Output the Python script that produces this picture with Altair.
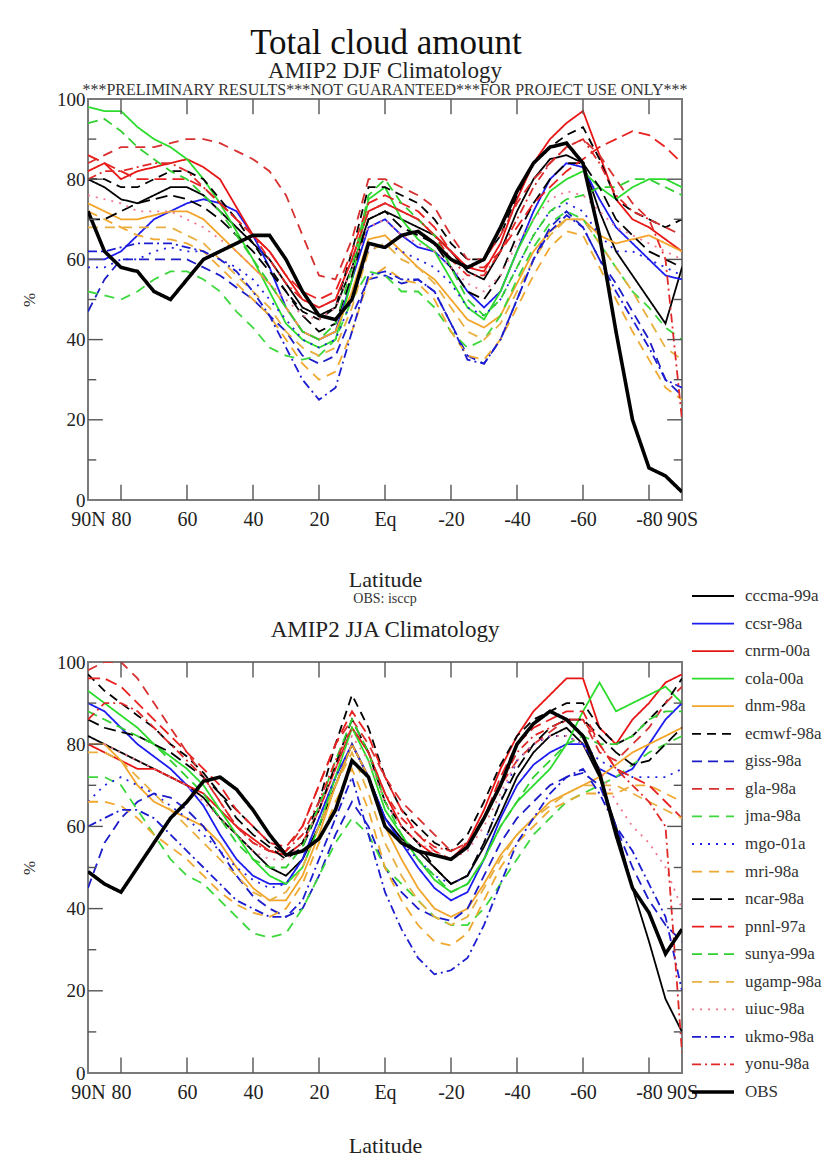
import altair as alt
import pandas as pd

FONT = "Liberation Serif"

LATS = [90, 85, 80, 75, 70, 65, 60, 55, 50, 45, 40, 35, 30, 25, 20, 15, 10, 5, 0,
        -5, -10, -15, -20, -25, -30, -35, -40, -45, -50, -55, -60, -65, -70, -75, -80, -85, -90]

MODELS = ["cccma-99a", "ccsr-98a", "cnrm-00a", "cola-00a", "dnm-98a", "ecmwf-98a",
          "giss-98a", "gla-98a", "jma-98a", "mgo-01a", "mri-98a", "ncar-98a",
          "pnnl-97a", "sunya-99a", "ugamp-98a", "uiuc-98a", "ukmo-98a", "yonu-98a", "OBS"]

COLORS = ["#000000", "#1c1cf0", "#e81515", "#2cdc2c", "#f2a52a", "#000000",
          "#1c1cc8", "#d83030", "#3cd83c", "#2020e0", "#f0a830", "#000000",
          "#e82020", "#30d030", "#e8b040", "#f07890", "#1c1cd0", "#e02828", "#000000"]

DASHES = [[1, 0], [1, 0], [1, 0], [1, 0], [1, 0], [9, 6],
          [10, 6], [10, 7], [10, 7], [2, 6], [10, 7], [12, 6],
          [12, 6], [10, 6], [10, 7], [2, 6], [9, 4, 2, 4], [9, 4, 2, 4], [1, 0]]

# ---- DJF climatology (percent), one value per entry of LATS ----
DJF = {
    "cccma-99a": [80, 78, 75, 74, 76, 78, 78, 76, 72, 68, 64, 60, 54, 48, 46, 48, 58, 70, 72, 70, 68, 66, 62, 57, 55, 62, 72, 80, 85, 86, 84, 72, 62, 56, 50, 44, 58],
    "ccsr-98a": [60, 60, 62, 66, 70, 72, 74, 75, 74, 72, 66, 58, 48, 42, 40, 42, 55, 68, 70, 66, 63, 62, 58, 52, 48, 52, 62, 72, 80, 84, 83, 75, 68, 64, 60, 56, 55],
    "cnrm-00a": [82, 84, 80, 82, 83, 84, 85, 83, 80, 73, 66, 62, 56, 50, 48, 50, 60, 72, 74, 72, 70, 66, 62, 58, 57, 64, 75, 84, 90, 94, 97, 86, 75, 70, 68, 65, 62],
    "cola-00a": [98, 97, 97, 93, 90, 88, 85, 80, 74, 67, 60, 52, 44, 40, 38, 40, 55, 75, 78, 70, 65, 62, 55, 48, 45, 52, 62, 70, 77, 80, 82, 78, 75, 78, 80, 80, 78],
    "dnm-98a": [74, 72, 70, 70, 71, 72, 72, 70, 66, 62, 58, 54, 48, 42, 40, 42, 52, 65, 66, 62, 58, 55, 50, 45, 43, 46, 54, 62, 67, 70, 70, 66, 64, 65, 66, 64, 62],
    "ecmwf-98a": [80, 80, 78, 78, 80, 82, 82, 80, 75, 70, 64, 58, 52, 47, 45, 48, 62, 78, 78, 76, 74, 70, 64, 60, 60, 66, 76, 84, 88, 91, 93, 85, 75, 72, 70, 68, 70],
    "giss-98a": [47, 55, 60, 60, 60, 60, 60, 58, 56, 53, 50, 46, 42, 36, 34, 36, 46, 55, 56, 54, 55, 52, 44, 36, 34, 40, 50, 60, 68, 72, 68, 60, 54, 47, 40, 30, 26],
    "gla-98a": [84, 86, 88, 88, 88, 89, 90, 90, 89, 87, 85, 82, 76, 66, 56, 55, 65, 80, 80, 78, 76, 73, 66, 60, 60, 66, 74, 80, 84, 88, 90, 86, 80, 74, 70, 68, 66],
    "jma-98a": [52, 51, 50, 52, 55, 57, 57, 55, 52, 47, 43, 38, 36, 35, 36, 40, 50, 57, 56, 52, 52, 48, 42, 38, 40, 46, 55, 63, 69, 72, 70, 64, 58, 52, 48, 43, 40],
    "mgo-01a": [58, 58, 60, 60, 62, 63, 62, 62, 60, 58, 55, 50, 45, 40, 38, 40, 50, 62, 64, 62, 60, 58, 54, 48, 46, 50, 58, 66, 72, 74, 72, 66, 62, 62, 60, 58, 56],
    "mri-98a": [72, 70, 68, 66, 65, 65, 64, 62, 58, 54, 50, 46, 40, 34, 30, 32, 42, 55, 58, 55, 54, 50, 42, 36, 35, 40, 48, 56, 63, 67, 66, 58, 50, 42, 35, 28, 25],
    "ncar-98a": [70, 70, 72, 74, 75, 76, 75, 73, 70, 66, 62, 57, 52, 46, 42, 44, 56, 70, 72, 68, 66, 64, 58, 52, 50, 56, 66, 74, 80, 84, 84, 78, 70, 66, 62, 60, 58],
    "pnnl-97a": [86, 84, 82, 80, 80, 80, 80, 78, 74, 70, 66, 62, 56, 52, 50, 52, 62, 74, 76, 74, 72, 68, 62, 58, 58, 62, 68, 74, 78, 82, 85, 88, 90, 92, 91, 88, 84],
    "sunya-99a": [94, 95, 92, 88, 85, 82, 80, 76, 72, 66, 60, 54, 48, 42, 40, 44, 58, 76, 80, 74, 70, 66, 58, 50, 46, 50, 58, 66, 72, 75, 76, 78, 78, 80, 80, 78, 76],
    "ugamp-98a": [68, 68, 68, 68, 68, 68, 66, 64, 60, 56, 52, 48, 42, 38, 36, 38, 48, 62, 64, 60, 58, 54, 48, 42, 40, 44, 52, 60, 66, 70, 70, 64, 58, 52, 45, 38, 35],
    "uiuc-98a": [76, 75, 74, 72, 72, 72, 70, 68, 65, 62, 58, 54, 50, 46, 45, 48, 58, 68, 70, 66, 64, 62, 58, 54, 52, 56, 64, 70, 75, 77, 76, 72, 68, 66, 64, 62, 60],
    "ukmo-98a": [62, 62, 63, 64, 64, 64, 63, 62, 60, 57, 52, 46, 38, 30, 25, 28, 42, 56, 57, 55, 55, 52, 44, 35, 34, 40, 50, 60, 67, 71, 68, 60, 52, 45, 38, 30, 28],
    "yonu-98a": [80, 82, 82, 83, 84, 84, 82, 78, 74, 70, 66, 60, 54, 50, 48, 50, 60, 72, 74, 72, 70, 66, 60, 56, 56, 62, 70, 78, 84, 88, 90, 84, 76, 72, 70, 60, 20],
    "OBS": [72, 62, 58, 57, 52, 50, 55, 60, 62, 64, 66, 66, 60, 52, 46, 45, 50, 64, 63, 66, 67, 64, 60, 58, 60, 68, 77, 84, 88, 89, 84, 66, 42, 20, 8, 6, 2],
}

# ---- JJA climatology (percent) ----
JJA = {
    "cccma-99a": [82, 80, 78, 76, 74, 72, 70, 67, 62, 58, 54, 50, 48, 52, 60, 70, 80, 72, 62, 57, 54, 50, 46, 48, 55, 63, 72, 78, 82, 84, 80, 72, 60, 45, 32, 18, 10],
    "ccsr-98a": [90, 88, 84, 80, 77, 74, 70, 65, 58, 52, 48, 46, 46, 52, 62, 72, 80, 72, 62, 56, 50, 45, 42, 44, 52, 62, 70, 75, 78, 80, 80, 74, 72, 74, 80, 86, 90],
    "cnrm-00a": [80, 78, 76, 74, 74, 72, 70, 68, 64, 60, 57, 54, 53, 56, 64, 74, 84, 78, 68, 60, 56, 53, 52, 56, 64, 74, 82, 88, 92, 96, 96, 84, 80, 86, 90, 95, 97],
    "cola-00a": [93, 90, 87, 84, 80, 77, 74, 70, 64, 58, 52, 48, 46, 50, 60, 72, 84, 76, 64, 58, 52, 47, 44, 46, 52, 60, 66, 70, 74, 80, 88, 95, 88, 90, 92, 94, 90],
    "dnm-98a": [80, 80, 76, 70, 66, 64, 62, 60, 56, 50, 45, 42, 42, 48, 58, 70, 80, 72, 60, 52, 45, 40, 38, 40, 46, 53, 58, 62, 66, 68, 70, 72, 75, 78, 80, 82, 84],
    "ecmwf-98a": [97, 93, 90, 87, 84, 80, 77, 73, 68, 64, 60, 56, 53, 56, 66, 80, 92, 84, 72, 64, 60, 56, 54, 58, 66, 75, 82, 86, 88, 90, 90, 84, 80, 82, 86, 90, 96],
    "giss-98a": [45, 56, 62, 66, 68, 67, 64, 60, 54, 48, 43, 40, 38, 40, 48, 58, 66, 60, 50, 44, 40, 38, 37, 40, 48, 56, 62, 66, 70, 72, 73, 70, 60, 50, 42, 36, 32],
    "gla-98a": [98, 100, 100, 96, 90, 84, 78, 72, 66, 60, 56, 54, 54, 60, 70, 80, 86, 80, 72, 66, 62, 58, 54, 56, 62, 70, 76, 80, 83, 86, 86, 78, 76, 80, 84, 90, 94],
    "jma-98a": [72, 72, 70, 64, 58, 52, 48, 46, 42, 38, 34, 33, 34, 40, 48, 56, 62, 58, 50, 46, 42, 38, 36, 36, 40, 46, 52, 58, 62, 66, 68, 70, 72, 75, 78, 80, 82],
    "mgo-01a": [66, 70, 72, 70, 68, 65, 62, 58, 54, 50, 47, 45, 46, 52, 62, 72, 80, 72, 62, 56, 52, 48, 46, 48, 56, 66, 76, 80, 82, 82, 80, 76, 74, 72, 72, 72, 74],
    "mri-98a": [66, 66, 65, 62, 58, 55, 52, 48, 44, 41, 39, 38, 40, 46, 56, 66, 74, 64, 50, 42, 36, 32, 31, 34, 42, 50, 56, 60, 64, 66, 68, 68, 68, 70, 70, 68, 66],
    "ncar-98a": [86, 84, 83, 82, 80, 78, 75, 72, 68, 62, 58, 55, 52, 55, 64, 75, 86, 78, 66, 60, 56, 50, 46, 48, 56, 66, 74, 80, 84, 86, 86, 82, 78, 75, 76, 80, 84],
    "pnnl-97a": [96, 96, 94, 90, 86, 82, 78, 74, 70, 64, 60, 56, 55, 60, 70, 80, 88, 82, 72, 64, 58, 54, 52, 55, 62, 72, 80, 84, 86, 88, 88, 80, 74, 72, 70, 66, 62],
    "sunya-99a": [88, 86, 84, 82, 80, 76, 72, 68, 62, 56, 52, 50, 50, 55, 65, 76, 86, 78, 66, 58, 52, 48, 44, 46, 52, 60, 66, 72, 76, 80, 82, 80, 80, 82, 86, 88, 88],
    "ugamp-98a": [78, 78, 76, 72, 68, 64, 60, 56, 52, 48, 44, 42, 44, 50, 60, 70, 78, 68, 56, 48, 42, 38, 36, 38, 45, 52, 58, 62, 65, 68, 70, 70, 70, 68, 66, 64, 62],
    "uiuc-98a": [80, 80, 78, 76, 74, 72, 70, 66, 62, 58, 54, 52, 52, 56, 64, 74, 82, 76, 66, 60, 56, 54, 52, 54, 60, 68, 76, 80, 82, 82, 80, 74, 66, 60, 56, 50, 40],
    "ukmo-98a": [60, 62, 64, 64, 62, 58, 54, 50, 46, 42, 40, 38, 38, 42, 52, 62, 72, 58, 44, 35, 28, 24, 25, 28, 36, 46, 56, 62, 68, 72, 74, 68, 60, 54, 46, 38, 20],
    "yonu-98a": [86, 90, 90, 88, 84, 80, 76, 72, 66, 60, 56, 54, 54, 58, 66, 76, 84, 78, 68, 62, 58, 55, 54, 56, 62, 70, 78, 82, 84, 86, 86, 80, 74, 70, 66, 60, 5],
    "OBS": [49, 46, 44, 50, 56, 62, 66, 71, 72, 69, 64, 58, 53, 54, 57, 64, 76, 72, 60, 56, 54, 53, 52, 55, 62, 70, 80, 85, 88, 86, 82, 73, 58, 45, 39, 29, 35],
}

XLABEL_VALUES = [90, 80, 60, 40, 20, 0, -20, -40, -60, -80, -90]
XTICKS = [80, 60, 40, 20, 0, -20, -40, -60, -80]
YLABEL_VALUES = [0, 20, 40, 60, 80, 100]
YMAJOR = [20, 40, 60, 80]
YMINOR = [10, 30, 50, 70, 90]

TITLE = "Total cloud amount"
DJF_TITLE = "AMIP2 DJF Climatology"
NOTICE = "***PRELIMINARY RESULTS***NOT GUARANTEED***FOR PROJECT USE ONLY***"
OBS_NOTE = "OBS: isccp"
JJA_TITLE = "AMIP2 JJA Climatology"


def to_long(table):
    return pd.DataFrame([{"model": m, "lat": la, "cloud": v}
                         for m in MODELS for la, v in zip(LATS, table[m])])


xscale = alt.Scale(domain=[90, -90], nice=False, zero=False)
yscale = alt.Scale(domain=[0, 100], nice=False, zero=False)


def make_xaxis(title_pad):
    return alt.Axis(
        values=XLABEL_VALUES,
        labelExpr="datum.value == 90 ? '90N' : datum.value == -90 ? '90S' : "
                  "datum.value == 0 ? 'Eq' : datum.value < 0 ? '-' + abs(datum.value) : '' + datum.value",
        title="Latitude", ticks=False, domain=False, grid=False,
        labelFont=FONT, labelFontSize=20, labelPadding=9, labelFlush=False,
        labelOverlap=False, labelColor="#222",
        titleFont=FONT, titleFontSize=22, titleFontWeight="normal", titlePadding=title_pad,
        titleColor="#222",
    )


yaxis = alt.Axis(
    values=YLABEL_VALUES, title="%", ticks=False, domain=False, grid=False,
    labelFont=FONT, labelFontSize=19, labelPadding=3, labelColor="#222",
    titleFont=FONT, titleFontSize=17, titleFontWeight="normal", titlePadding=18,
    titleColor="#333",
)

color = alt.Color("model:N", scale=alt.Scale(domain=MODELS, range=COLORS), legend=None)
dash = alt.StrokeDash("model:N", scale=alt.Scale(domain=MODELS, range=DASHES), legend=None)
swidth = alt.condition(alt.datum.model == "OBS", alt.value(3.6), alt.value(1.8))


def frame_ticks(xaxis):
    xt = pd.DataFrame({"v": XTICKS})
    ymaj = pd.DataFrame({"v": YMAJOR})
    ymin = pd.DataFrame({"v": YMINOR})
    style = dict(color="#555555", strokeWidth=1.4)
    layers = []
    for y0, y1 in [(0, 3.8), (100, 96.2)]:
        layers.append(alt.Chart(xt).mark_rule(**style).encode(
            x=alt.X("v:Q", scale=xscale, axis=xaxis),
            y=alt.Y(datum=y0, scale=yscale, axis=yaxis), y2=alt.Y2(datum=y1)))
    for df, ln in [(ymaj, 4.5), (ymin, 2.5)]:
        for x0, sgn in [(90, -1), (-90, 1)]:
            layers.append(alt.Chart(df).mark_rule(**style).encode(
                y=alt.Y("v:Q", scale=yscale, axis=yaxis),
                x=alt.X(datum=x0, scale=xscale, axis=xaxis), x2=alt.X2(datum=x0 + sgn * ln)))
    return layers


def plot_layer(table, xaxis, extra=()):
    lines = alt.Chart(to_long(table)).mark_line(clip=True).encode(
        x=alt.X("lat:Q", scale=xscale, axis=xaxis),
        y=alt.Y("cloud:Q", scale=yscale, axis=yaxis),
        color=color, strokeDash=dash, strokeWidth=swidth,
    )
    return alt.layer(lines, *frame_ticks(xaxis), *extra)


def caption(text, dy, size, xaxis, col="#222"):
    return alt.Chart(pd.DataFrame({"t": [text]})).mark_text(
        dy=dy, font=FONT, fontSize=size, baseline="middle", align="center", color=col
    ).encode(
        x=alt.X(datum=0, scale=xscale, axis=xaxis),
        y=alt.Y(datum=100, scale=yscale, axis=yaxis),
        text="t:N",
    )


W = 594
H_TOP = 401
H_BOT = 411

xaxis_top = make_xaxis(40)
xaxis_bot = make_xaxis(33)

top = plot_layer(DJF, xaxis_top).properties(
    width=W, height=H_TOP,
    title=alt.TitleParams(
        DJF_TITLE, subtitle=NOTICE,
        font=FONT, fontSize=23, fontWeight="normal", color="#222",
        subtitleFont=FONT, subtitleFontSize=16, subtitleColor="#333",
        subtitlePadding=-1, offset=-8, anchor="middle"),
)

leg = pd.DataFrame({"model": MODELS})
lx = alt.Scale(domain=[0, 1], range=[604, 646])
ly = alt.Scale(type="point", domain=MODELS, range=[-66, 430], padding=0)
leg_rules = alt.Chart(leg).mark_rule().encode(
    x=alt.X(datum=0, scale=lx, axis=None), x2=alt.X2(datum=1),
    y=alt.Y("model:N", scale=ly, axis=None),
    color=color, strokeDash=dash, strokeWidth=swidth,
)
leg_text = alt.Chart(leg).mark_text(
    align="left", baseline="middle", dx=11, font=FONT, fontSize=17, color="#333"
).encode(
    x=alt.X(datum=1, scale=lx, axis=None),
    y=alt.Y("model:N", scale=ly, axis=None),
    text="model:N",
)
legend_layer = alt.layer(leg_rules, leg_text)

bottom_plot = plot_layer(JJA, xaxis_bot, extra=(
    caption(OBS_NOTE, -63, 14, xaxis_bot, "#333"),
    caption(JJA_TITLE, -32, 23, xaxis_bot),
))

bottom = alt.layer(bottom_plot, legend_layer).resolve_scale(
    x="independent", y="independent"
).properties(width=W, height=H_BOT)

chart = alt.vconcat(top, bottom, spacing=162, bounds="flush").properties(
    title=alt.TitleParams(TITLE, font=FONT, fontSize=35, dx=-35,
                          fontWeight="normal", color="#111", anchor="middle", offset=-2),
    padding={"left": 11, "top": 18, "right": 0, "bottom": 0},
).configure_view(stroke="#7a7a7a", strokeWidth=2)

chart.save("out.html", embed_options={"renderer": "svg", "actions": False})
